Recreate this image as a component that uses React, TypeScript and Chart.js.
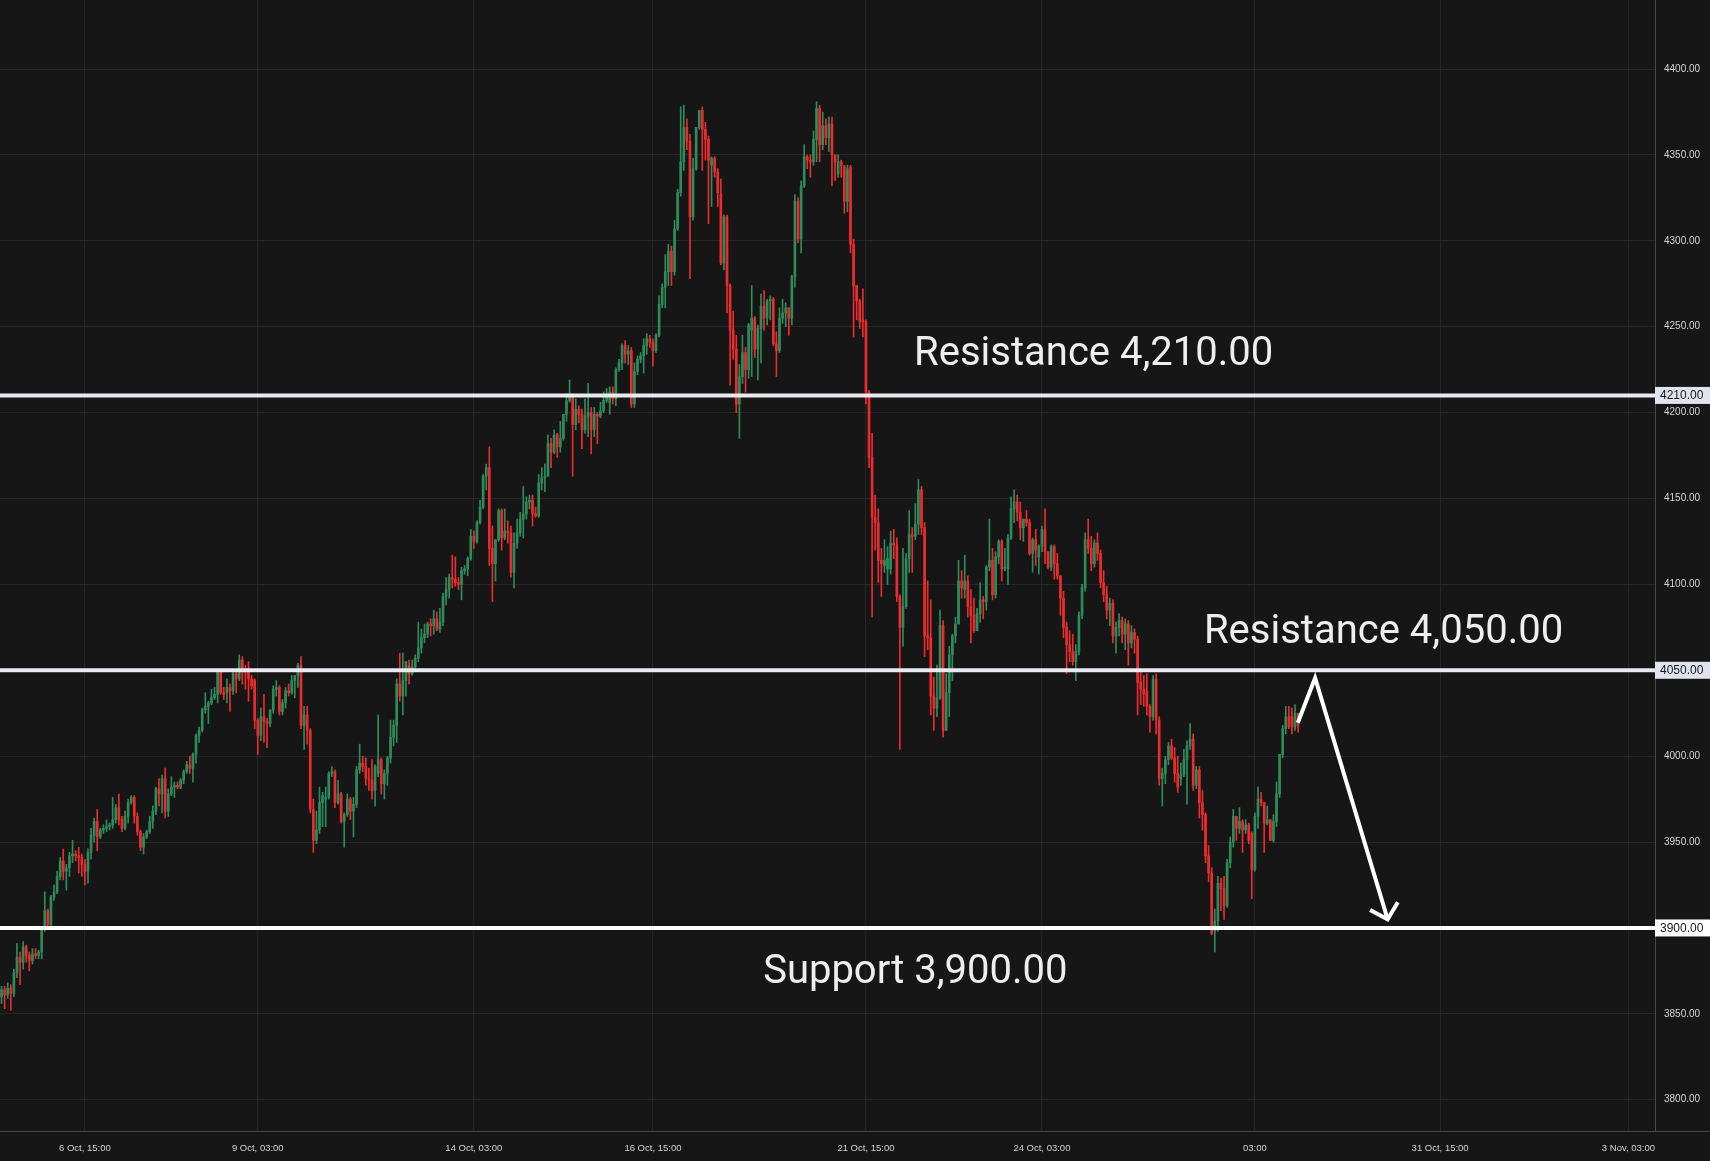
import React, { useEffect, useRef } from 'react';
import { Chart, registerables } from 'chart.js';

Chart.register(...registerables);

type Candle = [number, number, number, number]; // open, high, low, close (hourly)

const OCT_06_TO_08: Candle[] = [
  [3860,3866,3856,3864],[3864,3866,3853,3861],[3861,3868,3859,3865],[3865,3867,3852,3862],[3862,3876,3860,3874],
  [3874,3891,3871,3883],[3883,3886,3867,3880],[3880,3892,3876,3889],[3889,3890,3880,3884],[3884,3886,3875,3881],
  [3881,3888,3879,3885],[3885,3888,3882,3884],[3884,3887,3882,3886],[3886,3900,3882,3899],[3899,3921,3898,3910],
  [3910,3911,3900,3902],[3902,3919,3901,3918],[3918,3925,3916,3921],[3921,3933,3920,3930],[3930,3941,3928,3939],
  [3939,3946,3928,3933],[3933,3937,3922,3935],[3935,3944,3930,3942],[3942,3951,3938,3943],[3943,3945,3939,3942],
  [3942,3947,3932,3941],[3941,3943,3930,3937],[3937,3940,3925,3933],[3933,3946,3926,3944],[3944,3958,3940,3954],
  [3954,3964,3950,3962],[3962,3969,3945,3953],[3953,3958,3952,3957],[3957,3960,3955,3958],[3958,3963,3956,3959],
  [3959,3961,3957,3960],[3960,3976,3958,3963],[3963,3972,3961,3970],[3970,3978,3960,3963],[3963,3965,3956,3958],
  [3958,3968,3957,3965],[3965,3975,3961,3973],[3973,3977,3972,3976],[3976,3977,3961,3965],[3965,3967,3954,3956],
  [3956,3957,3945,3947],[3947,3955,3943,3953],[3953,3957,3952,3956],[3956,3965,3955,3962],[3962,3971,3958,3968],
  [3968,3982,3966,3981],[3981,3987,3971,3978],[3978,3989,3967,3987],[3987,3993,3964,3968],[3968,3981,3965,3978],
  [3978,3988,3977,3982],[3982,3985,3976,3983],[3983,3985,3981,3982],[3982,3987,3981,3986],[3986,3992,3984,3991],
  [3991,3997,3990,3995],[3995,4000,3990,3993],[3993,4002,3985,4001],[4001,4013,3996,4012],[4012,4017,4008,4015],
  [4015,4028,4014,4027],[4027,4037,4025,4029],[4029,4032,4019,4031],[4031,4039,4030,4034],[4034,4040,4033,4036],
  [4036,4049,4031,4049],
];

const OCT_08_TO_13: Candle[] = [
  [4049,4050,4036,4037],[4037,4040,4033,4036],[4037,4045,4031,4040],[4040,4042,4026,4038],[4038,4050,4036,4048],
  [4048,4050,4037,4045],[4045,4059,4044,4056],[4056,4058,4042,4051],[4051,4053,4039,4049],[4049,4055,4032,4045],
  [4045,4047,4039,4041],[4044,4045,4016,4021],[4021,4022,4001,4012],[4012,4028,4009,4023],[4023,4036,4008,4020],
  [4020,4022,4005,4019],[4019,4027,4017,4027],[4027,4041,4025,4039],[4039,4044,4035,4040],[4040,4041,4024,4026],
  [4026,4033,4024,4031],[4031,4040,4028,4038],[4038,4042,4035,4037],[4037,4047,4036,4044],[4044,4047,4034,4047],
  [4047,4054,4040,4053],[4053,4058,4016,4018],[4018,4029,4004,4024],[4024,4029,4007,4015],[4015,4016,3967,3969],
  [3969,3975,3944,3951],[3951,3968,3949,3957],[3957,3982,3955,3973],[3973,3979,3959,3977],[3975,3982,3959,3976],
  [3976,3991,3975,3990],[3990,3994,3988,3991],[3991,3992,3970,3973],[3973,3986,3972,3978],[3978,3979,3961,3962],
  [3962,3967,3947,3966],[3966,3978,3965,3975],[3975,3976,3963,3968],[3968,3976,3953,3972],[3972,3994,3970,3992],
  [3992,4007,3990,3996],[3996,4000,3991,3994],[3994,3999,3983,3987],[3987,3993,3980,3986],[3986,3998,3975,3980],
  [3980,3995,3971,3994],[3990,4024,3988,3998],[3998,3999,3978,3984],[3984,3992,3975,3990],[3990,4000,3983,3999],
  [3999,4021,3996,4011],[4011,4021,4006,4018],[4018,4045,4008,4042],[4042,4060,4032,4035],[4035,4060,4024,4044],
  [4044,4055,4035,4055],[4053,4056,4042,4048],[4048,4056,4047,4052],[4052,4059,4051,4057],[4057,4078,4055,4063],
  [4063,4074,4060,4069],[4069,4077,4066,4071],[4071,4078,4069,4077],[4077,4080,4070,4076],[4076,4085,4071,4080],
];

const OCT_13_TO_16: Candle[] = [
  [4080,4084,4073,4074],[4074,4086,4072,4078],[4078,4095,4076,4093],[4093,4104,4088,4097],[4097,4106,4092,4104],
  [4104,4117,4098,4103],[4103,4116,4099,4101],[4101,4104,4097,4100],[4100,4110,4091,4108],[4108,4111,4106,4109],
  [4109,4116,4105,4115],[4115,4132,4114,4128],[4128,4131,4121,4125],[4125,4137,4124,4136],[4136,4149,4135,4145],
  [4145,4164,4144,4163],[4163,4170,4155,4168],[4168,4180,4111,4121],[4121,4134,4090,4112],[4112,4126,4102,4126],
  [4126,4144,4125,4143],[4143,4144,4120,4127],[4127,4144,4126,4131],[4131,4137,4124,4130],[4130,4134,4104,4107],
  [4107,4130,4098,4124],[4124,4138,4121,4130],[4130,4142,4128,4138],[4138,4157,4127,4141],[4141,4151,4138,4148],
  [4148,4152,4144,4149],[4149,4152,4134,4141],[4141,4145,4139,4140],[4140,4164,4139,4159],[4159,4168,4155,4162],
  [4162,4170,4154,4163],[4163,4187,4163,4182],[4182,4185,4168,4177],[4177,4190,4176,4187],[4187,4188,4174,4180],
  [4180,4195,4177,4185],[4185,4199,4184,4199],[4199,4211,4195,4207],[4207,4219,4206,4209],[4209,4211,4163,4193],
  [4193,4208,4190,4202],[4202,4204,4194,4199],[4199,4202,4179,4190],[4190,4208,4188,4198],[4198,4217,4186,4200],
  [4200,4203,4176,4190],[4190,4203,4186,4199],[4199,4200,4182,4198],[4198,4206,4197,4201],[4201,4212,4200,4207],
  [4207,4214,4206,4211],[4206,4215,4199,4212],[4212,4215,4205,4208],[4208,4226,4204,4225],[4225,4231,4224,4229],
  [4229,4240,4225,4239],[4239,4242,4229,4234],[4234,4239,4228,4236],[4236,4238,4203,4205],[4205,4229,4203,4224],
  [4224,4233,4222,4231],[4231,4235,4229,4233],[4233,4243,4223,4239],[4239,4246,4234,4243],[4243,4245,4238,4241],
];

const OCT_16_TO_21: Candle[] = [
  [4241,4243,4227,4236],[4236,4246,4235,4245],[4245,4268,4244,4263],[4263,4275,4261,4273],[4273,4292,4261,4282],
  [4282,4298,4274,4294],[4294,4297,4274,4282],[4282,4312,4280,4307],[4307,4330,4306,4328],[4328,4378,4326,4346],
  [4346,4379,4341,4366],[4366,4371,4353,4358],[4358,4362,4278,4314],[4314,4348,4312,4342],[4342,4366,4341,4366],
  [4366,4376,4365,4376],[4376,4378,4341,4365],[4365,4369,4347,4359],[4359,4361,4310,4347],[4344,4349,4320,4348],
  [4348,4349,4337,4340],[4340,4342,4320,4328],[4327,4336,4286,4287],[4287,4315,4283,4314],[4314,4315,4258,4274],
  [4274,4275,4216,4248],[4248,4259,4231,4237],[4237,4245,4200,4205],[4205,4228,4185,4221],[4221,4245,4217,4235],
  [4235,4238,4212,4225],[4225,4252,4220,4251],[4248,4274,4221,4255],[4255,4256,4232,4237],[4237,4251,4219,4249],
  [4249,4269,4229,4262],[4262,4271,4248,4255],[4255,4266,4251,4265],[4265,4268,4254,4266],[4266,4267,4239,4240],
  [4240,4247,4221,4236],[4236,4261,4235,4255],[4255,4266,4252,4258],[4258,4264,4250,4261],[4261,4261,4245,4255],
  [4255,4280,4251,4279],[4279,4327,4273,4323],[4323,4325,4299,4301],[4301,4335,4293,4332],[4332,4356,4331,4349],
  [4349,4350,4342,4347],[4347,4350,4337,4346],[4346,4364,4344,4359],[4359,4381,4346,4377],[4377,4379,4346,4356],
  [4356,4375,4353,4367],[4367,4371,4356,4360],[4360,4372,4352,4368],[4368,4372,4332,4350],[4350,4350,4335,4346],
  [4339,4350,4337,4346],[4346,4347,4337,4344],[4343,4344,4316,4323],[4323,4344,4317,4342],[4343,4344,4293,4298],
  [4298,4301,4244,4274],[4274,4274,4254,4265],[4265,4266,4249,4253],[4254,4272,4244,4253],
];

const OCT_21_TO_24: Candle[] = [
  [4253,4254,4205,4212],[4212,4213,4168,4174],[4174,4188,4081,4139],[4139,4152,4120,4136],[4136,4144,4101,4114],
  [4114,4121,4093,4112],[4111,4126,4107,4114],[4109,4122,4100,4115],[4109,4131,4106,4124],[4124,4132,4115,4123],
  [4123,4127,4090,4093],[4093,4094,4004,4075],[4075,4121,4064,4087],[4087,4118,4086,4115],[4115,4143,4107,4129],
  [4129,4133,4107,4128],[4128,4147,4126,4135],[4135,4161,4129,4155],[4155,4157,4129,4133],[4133,4136,4058,4070],
  [4070,4102,4062,4069],[4069,4091,4024,4035],[4035,4046,4015,4028],[4028,4053,4023,4034],[4034,4085,4033,4076],
  [4076,4079,4011,4015],[4015,4048,4015,4037],[4037,4064,4023,4059],[4059,4071,4044,4070],[4070,4081,4066,4077],
  [4077,4114,4077,4102],[4102,4108,4092,4098],[4097,4117,4092,4102],[4102,4105,4081,4087],[4087,4097,4066,4082],
  [4082,4092,4072,4073],[4073,4086,4073,4083],[4083,4101,4078,4091],[4091,4093,4080,4090],[4090,4111,4085,4110],
  [4110,4138,4108,4114],[4114,4121,4091,4094],[4094,4119,4092,4116],[4116,4126,4112,4125],[4125,4126,4102,4109],
  [4109,4121,4108,4110],[4109,4129,4100,4127],[4127,4151,4126,4144],[4144,4155,4136,4148],[4148,4152,4137,4142],
  [4142,4148,4126,4133],[4133,4138,4125,4138],[4138,4143,4134,4136],[4136,4138,4117,4118],[4118,4127,4107,4126],
  [4126,4132,4111,4120],[4116,4123,4106,4122],[4122,4134,4119,4132],[4132,4144,4112,4119],[4119,4119,4109,4110],
  [4110,4123,4108,4122],[4122,4123,4103,4112],[4112,4118,4103,4105],[4105,4105,4082,4092],[4092,4096,4069,4075],
  [4075,4078,4048,4065],[4065,4073,4055,4061],[4061,4071,4053,4055],[4055,4065,4044,4061],[4061,4084,4059,4082],
];

const OCT_24_TO_27: Candle[] = [
  [4082,4100,4080,4098],[4098,4130,4096,4126],[4126,4138,4118,4121],[4121,4128,4108,4112],[4112,4126,4110,4124],
  [4124,4130,4114,4118],[4118,4120,4098,4101],[4101,4108,4090,4094],[4094,4099,4080,4085],[4085,4092,4076,4089],
  [4089,4091,4066,4070],[4070,4078,4060,4075],[4075,4083,4070,4079],[4079,4081,4066,4071],[4071,4080,4062,4077],
  [4077,4079,4053,4066],[4066,4076,4063,4072],[4072,4074,4060,4068],
];

const OCT_27_TO_29: Candle[] = [
  [4068,4070,4024,4043],[4043,4051,4030,4039],[4039,4047,4029,4036],[4038,4048,4024,4029],[4029,4030,4014,4023],
  [4023,4047,4021,4045],[4045,4048,4013,4021],[4021,4023,3983,3987],[3987,3993,3971,3990],[3990,4000,3984,3998],
  [3998,4008,3995,4006],[4006,4010,3998,3999],[3999,4005,3985,3990],[3990,4000,3979,3982],[3987,3996,3983,3989],
  [3989,4004,3988,3998],[3998,4009,3972,4006],[4006,4019,4004,4010],[4010,4013,3980,3983],[3983,3994,3981,3992],
  [3992,3994,3964,3973],[3973,3980,3957,3966],[3966,3967,3938,3942],[3942,3948,3927,3932],[3932,3935,3896,3897],
  [3898,3911,3886,3904],[3904,3930,3898,3926],[3926,3929,3910,3923],[3923,3930,3905,3913],[3913,3940,3912,3938],
  [3938,3953,3935,3950],[3950,3969,3947,3965],[3965,3965,3951,3958],[3958,3970,3955,3962],[3962,3963,3944,3957],
  [3957,3963,3955,3960],[3960,3961,3949,3951],[3955,3956,3917,3934],[3934,3967,3933,3965],[3965,3982,3958,3975],
  [3975,3979,3971,3973],[3973,3973,3944,3961],[3961,3971,3960,3963],[3963,3963,3951,3951],[3951,3966,3950,3962],
  [3962,3985,3959,3978],[3978,4001,3976,4001],[4001,4018,3999,4016],[4016,4029,4013,4023],[4023,4029,4016,4017],
  [4023,4028,4013,4017],[4017,4030,4015,4025],[4025,4025,4014,4018],
];

const CANDLES: Candle[] = [
  ...OCT_06_TO_08, ...OCT_08_TO_13, ...OCT_13_TO_16, ...OCT_16_TO_21,
  ...OCT_21_TO_24, ...OCT_24_TO_27, ...OCT_27_TO_29,
];

// time axis: bar index of each labelled time
const X_TICK_BARS = [27, 83, 153, 211, 280, 337, 406, 466, 527];
const X_TICK_LABELS = ['6 Oct, 15:00', '9 Oct, 03:00', '14 Oct, 03:00', '16 Oct, 15:00', '21 Oct, 15:00', '24 Oct, 03:00', '03:00', '31 Oct, 15:00', '3 Nov, 03:00'];
const PRICE_TICKS = [3800, 3850, 3900, 3950, 4000, 4050, 4100, 4150, 4200, 4250, 4300, 4350, 4400];

// horizontal levels
const LEVEL_PRICES = [4210, 4050, 3900];
const LEVEL_TEXTS = ['Resistance 4,210.00', 'Resistance 4,050.00', 'Support 3,900.00'];
const LEVEL_TEXT_BARS = [295.6, 389.5, 246.7];
const LEVEL_TEXT_PRICES = [4227.7, 4065.9, 3868];

// projected move arrow (bar index, price)
const ARROW_BARS = [419.9, 425.5, 449.0];
const ARROW_PRICES = [4019.5, 4045.5, 3905];
const ARROW_HEAD_BARS = [443.3, 449.0, 452.3];
const ARROW_HEAD_PRICES = [3910.5, 3905, 3915];

const X_MIN = -0.5;
const X_MAX = 535.6;
const Y_MIN = 3781.8;
const Y_MAX = 4440.2;

const BG = '#161616';
const GRID = '#262626';
const AXIS = '#4a4a4a';
const TICK_COLOR = '#d4d4d4';
const UP = '#2e8b5b';
const DOWN = '#ec2b2e';
const LEVEL_LINE_COLORS = ['#e9eaf0', '#e9eaf0', '#ffffff'];
const LEVEL_BOX_COLORS = ['#e0e3eb', '#e0e3eb', '#ffffff'];

const overlayPlugin = {
  id: 'overlay',
  beforeDraw(chart: any) {
    const { ctx, width, height } = chart;
    ctx.save();
    ctx.fillStyle = BG;
    ctx.fillRect(0, 0, width, height);
    ctx.restore();
  },
  afterDraw(chart: any) {
    const { ctx, chartArea } = chart;
    const xs = chart.scales.x;
    const ys = chart.scales.y;
    ctx.save();
    ctx.strokeStyle = AXIS;
    ctx.lineWidth = 1;
    ctx.beginPath();
    ctx.moveTo(chartArea.right, Math.round(chartArea.bottom) + 0.5);
    ctx.lineTo(chart.width, Math.round(chartArea.bottom) + 0.5);
    ctx.stroke();

    LEVEL_PRICES.forEach((lv, k) => {
      const py = ys.getPixelForValue(lv);
      ctx.fillStyle = LEVEL_BOX_COLORS[k];
      ctx.fillRect(chartArea.right, py - 8.5, chart.width - chartArea.right, 17);
      ctx.fillStyle = '#131722';
      ctx.font = '12px "Liberation Sans", Arial, sans-serif';
      ctx.textAlign = 'left';
      ctx.textBaseline = 'middle';
      ctx.fillText(lv.toFixed(2), chartArea.right + 5, py + 0.5);
    });

    ctx.fillStyle = '#eeeeee';
    ctx.font = '40px Roboto, "Noto Sans", sans-serif';
    ctx.textAlign = 'left';
    ctx.textBaseline = 'alphabetic';
    LEVEL_TEXTS.forEach((t, k) => {
      ctx.fillText(t, xs.getPixelForValue(LEVEL_TEXT_BARS[k]), ys.getPixelForValue(LEVEL_TEXT_PRICES[k]));
    });
    ctx.restore();
  },
};

export default function App() {
  const ref = useRef<HTMLCanvasElement | null>(null);

  useEffect(() => {
    if (!ref.current) return;
    const colors = CANDLES.map((c) => (c[3] >= c[0] ? UP : DOWN));
    const levelSets = LEVEL_PRICES.map((lv, k) => ({
      type: 'line' as const,
      data: [{ x: X_MIN, y: lv }, { x: X_MAX, y: lv }],
      borderColor: LEVEL_LINE_COLORS[k],
      borderWidth: 4,
      pointRadius: 0,
      order: 0,
    }));
    const chart = new Chart(ref.current, {
      type: 'bar',
      data: {
        datasets: [
          {
            type: 'line',
            data: ARROW_BARS.map((b, k) => ({ x: b, y: ARROW_PRICES[k] })),
            borderColor: '#ffffff',
            borderWidth: 4,
            pointRadius: 0,
            tension: 0,
            borderJoinStyle: 'miter',
            order: 0,
          },
          {
            type: 'line',
            data: ARROW_HEAD_BARS.map((b, k) => ({ x: b, y: ARROW_HEAD_PRICES[k] })),
            borderColor: '#ffffff',
            borderWidth: 4,
            pointRadius: 0,
            tension: 0,
            borderJoinStyle: 'miter',
            order: 0,
          },
          ...levelSets,
          {
            type: 'bar',
            data: CANDLES.map((c, i) => ({ x: i, y: [c[0], c[3]] })),
            backgroundColor: colors,
            borderWidth: 0,
            barThickness: 2,
            minBarLength: 1,
            grouped: false,
            order: 1,
          },
          {
            type: 'bar',
            data: CANDLES.map((c, i) => ({ x: i, y: [c[2], c[1]] })),
            backgroundColor: colors,
            borderWidth: 0,
            barThickness: 1,
            grouped: false,
            order: 2,
          },
        ] as any,
      },
      options: {
        animation: false,
        responsive: false,
        devicePixelRatio: 1,
        events: [],
        layout: { padding: 0 },
        plugins: { legend: { display: false }, tooltip: { enabled: false } },
        scales: {
          x: {
            type: 'linear',
            min: X_MIN,
            max: X_MAX,
            offset: false,
            afterBuildTicks: (s: any) => {
              s.ticks = X_TICK_BARS.map((v) => ({ value: v }));
            },
            afterFit: (s: any) => {
              s.height = 30;
              s.paddingLeft = 0;
              s.paddingRight = 0;
              s.paddingTop = 0;
              s.paddingBottom = 0;
            },
            grid: { color: GRID, drawTicks: false, offset: false },
            border: { color: AXIS },
            ticks: {
              autoSkip: false,
              maxRotation: 0,
              padding: 12,
              color: TICK_COLOR,
              font: { family: '"Liberation Sans", Arial, sans-serif', size: 9.5 },
              callback: (v: any) => {
                const k = X_TICK_BARS.indexOf(Number(v));
                return k >= 0 ? X_TICK_LABELS[k] : '';
              },
            },
          },
          y: {
            type: 'linear',
            position: 'right',
            min: Y_MIN,
            max: Y_MAX,
            beginAtZero: false,
            afterBuildTicks: (s: any) => {
              s.ticks = PRICE_TICKS.map((v) => ({ value: v }));
            },
            afterFit: (s: any) => {
              s.width = 55;
              s.paddingLeft = 0;
              s.paddingRight = 0;
              s.paddingTop = 0;
              s.paddingBottom = 0;
            },
            grid: { color: GRID, drawTicks: false },
            border: { color: AXIS },
            ticks: {
              padding: 9,
              color: TICK_COLOR,
              font: { family: '"Liberation Sans", Arial, sans-serif', size: 10 },
              callback: (v: any) => Number(v).toFixed(2),
            },
          },
        },
      } as any,
      plugins: [overlayPlugin],
    });
    return () => chart.destroy();
  }, []);

  return (
    <div style={{ position: 'fixed', left: 0, top: 0, width: 1710, height: 1161, background: BG }}>
      <canvas ref={ref} width={1710} height={1161} style={{ display: 'block', width: 1710, height: 1161 }} />
    </div>
  );
}
